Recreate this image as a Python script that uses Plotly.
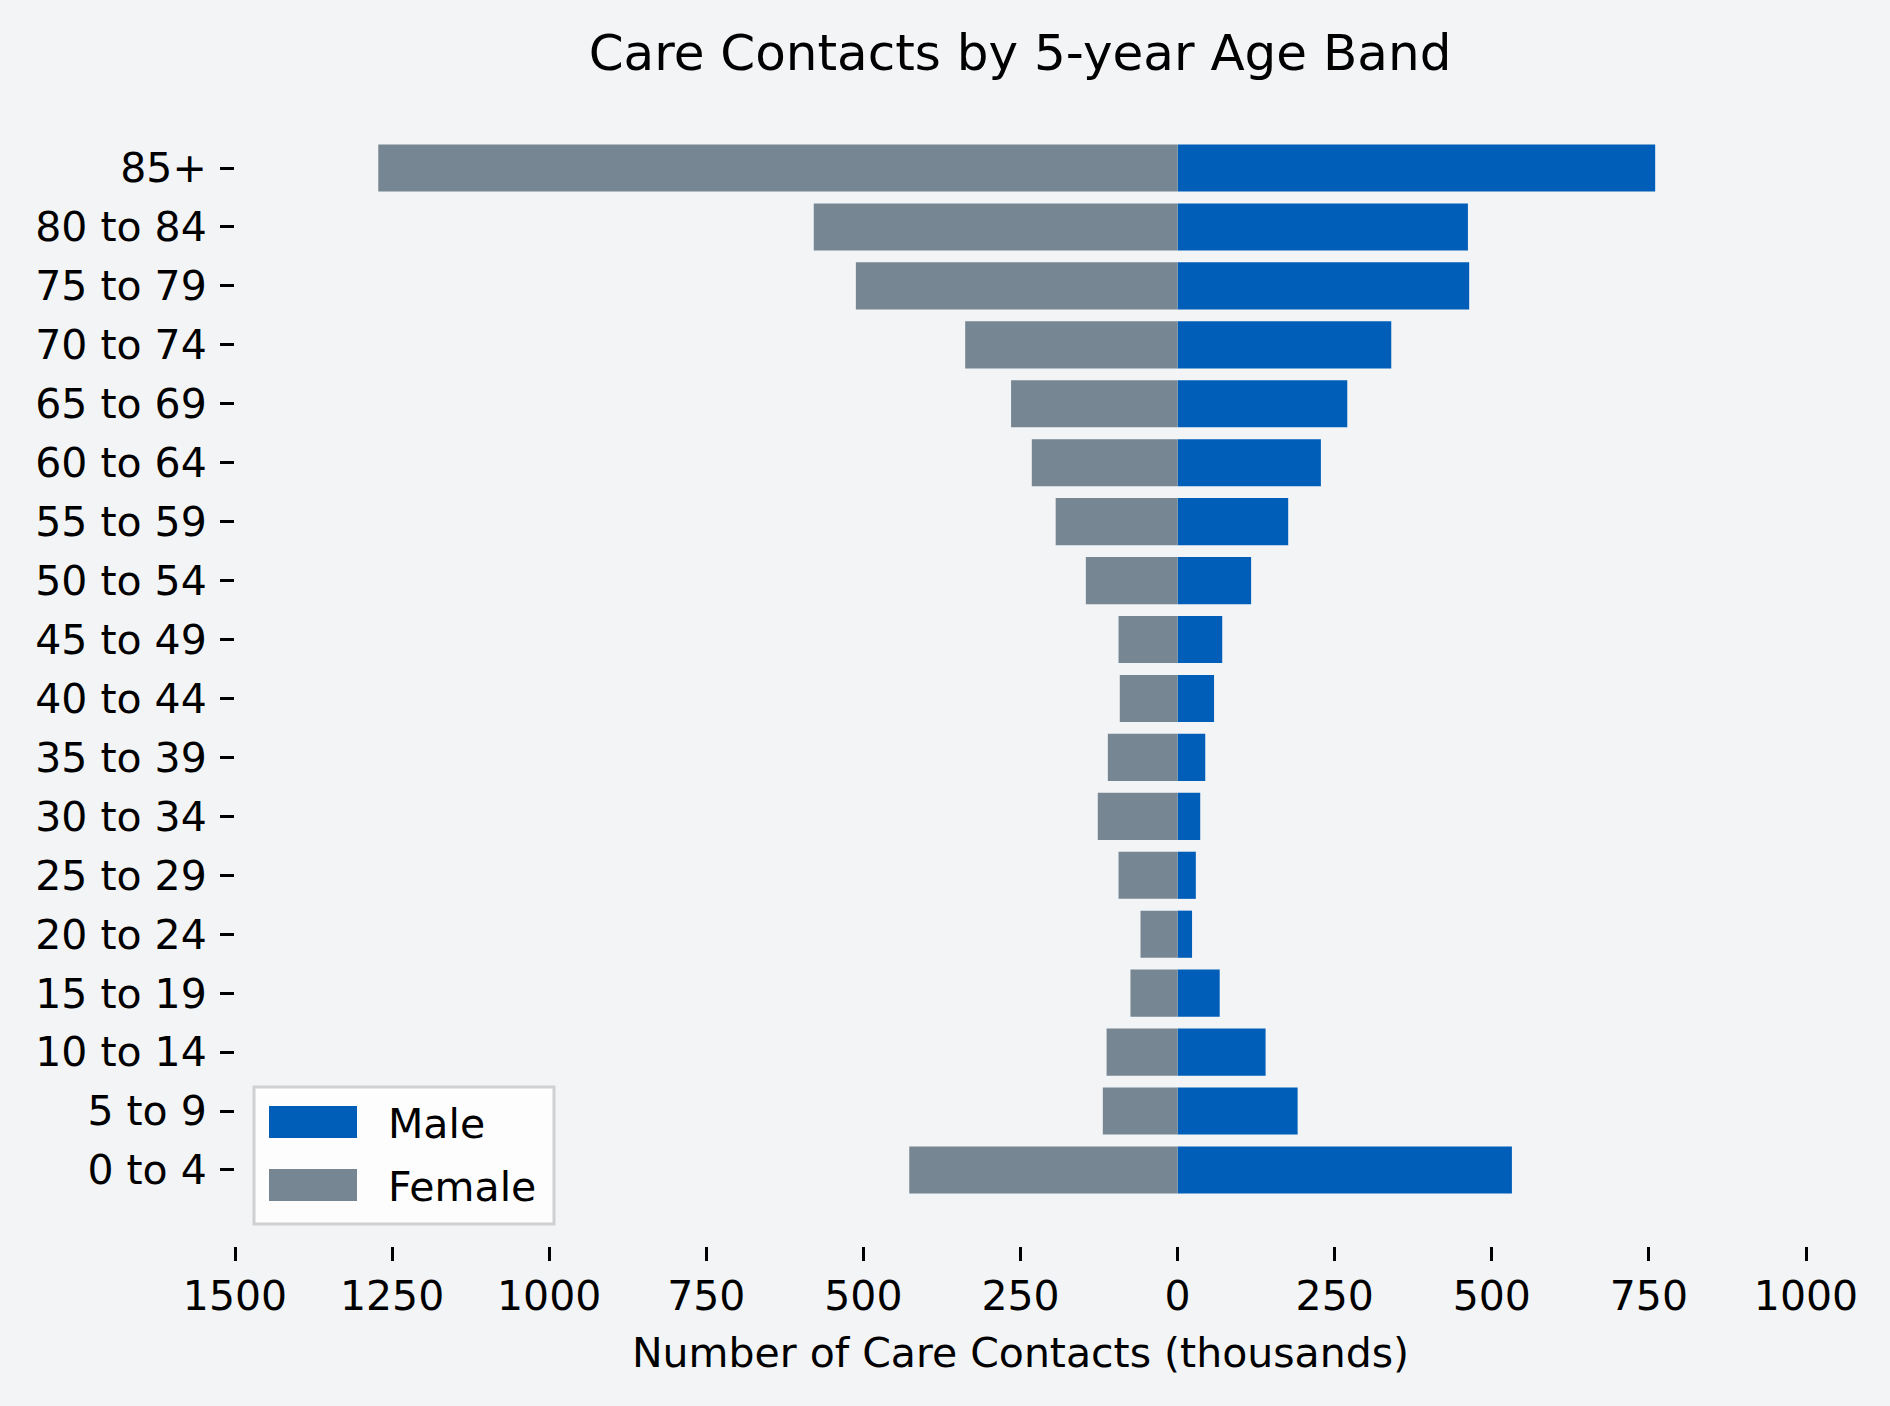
import plotly.graph_objects as go

#%% Data (thousands of care contacts)
age_bands = ["0 to 4", "5 to 9", "10 to 14", "15 to 19", "20 to 24", "25 to 29",
             "30 to 34", "35 to 39", "40 to 44", "45 to 49", "50 to 54", "55 to 59",
             "60 to 64", "65 to 69", "70 to 74", "75 to 79", "80 to 84", "85+"]
male = [532, 191, 140, 67, 23, 29, 36, 44, 58, 71, 117, 176, 228, 270, 340, 464, 462, 760]
female = [427, 119, 113, 75, 59, 94, 127, 111, 92, 94, 146, 194, 232, 265, 338, 512, 579, 1272]
x_ticks = [-1500, -1250, -1000, -750, -500, -250, 0, 250, 500, 750, 1000]

MALE_COLOR = "#005EB8"
FEMALE_COLOR = "#768692"
BG = "#F3F4F6"
FONT = "DejaVu Sans"

W, H = 1890, 1406
L, R, T, B = 235, 84, 92, 160


def px(x):
    return (x - L) / (W - L - R)


def py(y):
    return (H - B - y) / (H - T - B)


#%% Figure
fig = go.Figure()
fig.add_trace(go.Bar(y=age_bands, x=male, orientation="h", name="Male",
                     marker=dict(color=MALE_COLOR, line=dict(width=0)), showlegend=False))
fig.add_trace(go.Bar(y=age_bands, x=[-v for v in female], orientation="h", name="Female",
                     marker=dict(color=FEMALE_COLOR, line=dict(width=0)), showlegend=False))

fig.update_layout(
    width=W, height=H,
    margin=dict(l=L, r=R, t=T, b=B),
    paper_bgcolor=BG, plot_bgcolor=BG,
    barmode="relative", bargap=0.2,
    font=dict(family=FONT, size=41, color="black"),
    title=dict(text="Care Contacts by 5-year Age Band", x=px(1020), xref="paper",
               xanchor="center", y=1 - 52 / H, yanchor="middle",
               font=dict(size=50)),
)
fig.update_xaxes(range=[-1500, 1000], tickvals=x_ticks, ticktext=[str(abs(v)) for v in x_ticks],
                 showgrid=False, zeroline=False, showline=False,
                 ticks="outside", ticklen=14, tickwidth=2.5, tickcolor="black",
                 ticklabelstandoff=0,
                 title=dict(text="Number of Care Contacts (thousands)", standoff=19,
                            font=dict(size=41)))
fig.update_yaxes(range=[-1.29, 18.29], categoryorder="array", categoryarray=age_bands,
                 showgrid=False, zeroline=False, showline=False,
                 ticks="outside", ticklen=14, tickwidth=2.5, tickcolor="black",
                 ticklabelstandoff=5)

# legend drawn in axes (paper) space
fig.add_shape(type="rect", xref="paper", yref="paper",
              x0=px(254), x1=px(554), y0=py(1224), y1=py(1087),
              fillcolor="rgba(255,255,255,0.8)", line=dict(color="#D0D0D0", width=3))
for name, color, yc in [("Male", MALE_COLOR, 1122), ("Female", FEMALE_COLOR, 1185)]:
    fig.add_shape(type="rect", xref="paper", yref="paper",
                  x0=px(269), x1=px(357), y0=py(yc + 16), y1=py(yc - 16),
                  fillcolor=color, line=dict(width=0))
    fig.add_annotation(text=name, xref="paper", yref="paper", x=px(386), y=py(yc + 2),
                       xanchor="left", yanchor="middle", showarrow=False,
                       font=dict(size=41))

fig.write_html("out.html", config={"displayModeBar": False},
               post_script="document.body.style.margin='0';")
